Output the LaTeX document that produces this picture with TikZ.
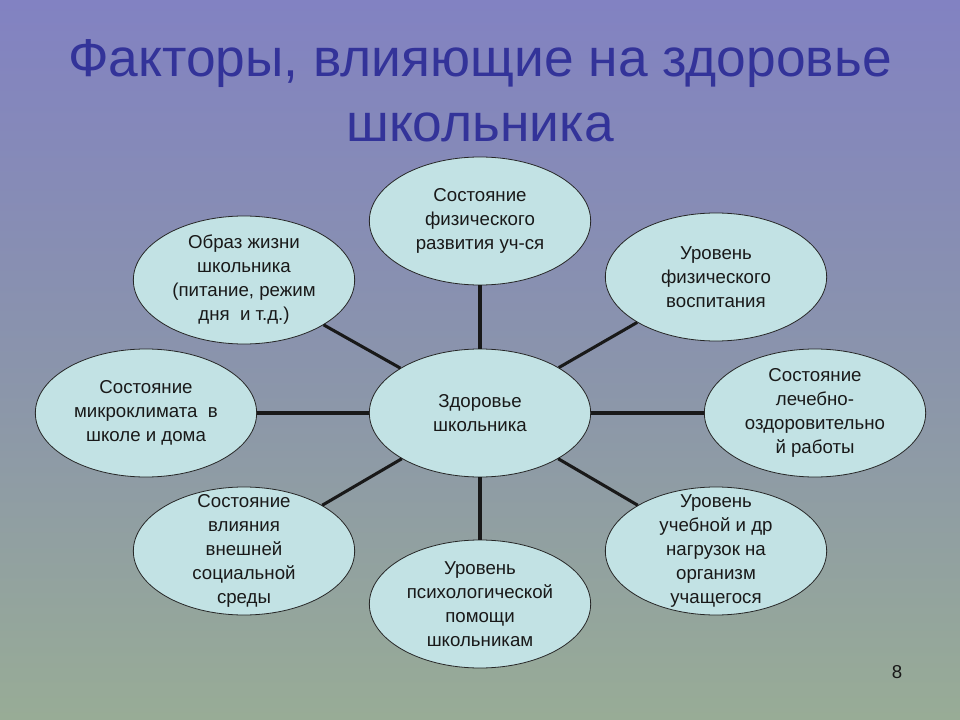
\documentclass[tikz,border=0pt]{standalone}
\usepackage{fontspec}
\setmainfont{Liberation Sans}
\usetikzlibrary{shapes.geometric}
\definecolor{bgtop}{RGB}{130,130,194}
\definecolor{bgmid}{RGB}{138,148,172}
\definecolor{bgbot}{RGB}{152,172,150}
\definecolor{titleblue}{RGB}{51,51,153}
\definecolor{ellfill}{RGB}{194,226,228}
\definecolor{txt}{RGB}{25,25,25}
\tikzset{
  oval/.style={ellipse, draw=black!85, line width=0.6pt, fill=ellfill, inner sep=0pt,
    minimum width=166pt, minimum height=96pt},
  lbl/.style={align=center, text=txt, font=\fontsize{14}{18}\selectfont, inner sep=0pt},
  link/.style={line width=2.3pt, draw=black!90},
  ttl/.style={font=\fontsize{40}{48}\selectfont, text=titleblue, anchor=base, inner sep=0pt},
}
\begin{document}
\begin{tikzpicture}[x=0.75pt,y=-0.75pt]
\shade[top color=bgtop, bottom color=bgbot, middle color=bgmid] (0,0) rectangle (960,720);
\useasboundingbox (0,0) rectangle (960,720);
\node[ttl] (title1) at (480,77) {Факторы, влияющие на здоровье};
\node[ttl] (title2) at (480,142) {школьника};
% ellipses
\node[oval] (c)  at (480,413) {};
\node[oval] (t)  at (480,221) {};
\node[oval] (ul) at (244,280) {};
\node[oval] (ur) at (716,277) {};
\node[oval] (l)  at (146,413) {};
\node[oval] (r)  at (815,413) {};
\node[oval] (ll) at (244,551) {};
\node[oval] (b)  at (480,604) {};
\node[oval] (lr) at (716,551) {};
% connectors
\foreach \n in {t,ul,ur,l,r,ll,b,lr} {\draw[link] (c) -- (\n);}
% labels
\node[lbl] (ct)  at (c)  {Здоровье\\школьника};
\node[lbl] (tt)  at (t)  {Состояние\\физического\\развития уч-ся};
\node[lbl] (ult) at (ul) {Образ жизни\\школьника\\(питание, режим\\дня\ \ и т.д.)};
\node[lbl] (urt) at (ur) {Уровень\\физического\\воспитания};
\node[lbl] (lt)  at (l)  {Состояние\\микроклимата\ \ в\\школе и дома};
\node[lbl] (rt)  at (r)  {Состояние\\лечебно-\\оздоровительно\\й работы};
\node[lbl] (llt) at (ll) {Состояние\\влияния\\внешней\\социальной\\среды};
\node[lbl] (bt)  at (b)  {Уровень\\психологической\\помощи\\школьникам};
\node[lbl] (lrt) at (lr) {Уровень\\учебной и др\\нагрузок на\\организм\\учащегося};
\node[font=\fontsize{14}{16}\selectfont, text=txt] (pg) at (897,672) {8};
\end{tikzpicture}
\end{document}
